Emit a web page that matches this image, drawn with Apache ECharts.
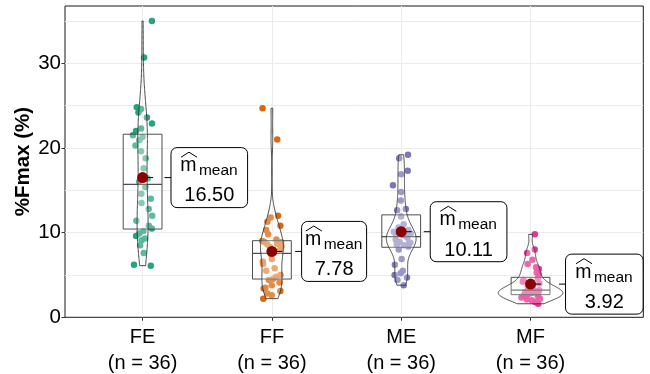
<!DOCTYPE html>
<html>
<head>
<meta charset="utf-8">
<script src="https://cdn.jsdelivr.net/npm/echarts@6/dist/echarts.min.js"></script>
<style>
  html, body { margin: 0; padding: 0; background: #fff; }
  #chart { width: 650px; height: 374px; }
</style>
</head>
<body>
<div id="chart"></div>
<script>
// data
const categories = ['FE', 'FF', 'ME', 'MF'];
const feValues = [6.1, 6.2, 7.6, 8.5, 9.1, 9.3, 9.6, 9.9, 10.2, 10.5, 10.8, 11.4, 12.0, 12.8, 13.5, 14.0, 14.6, 15.4,
  16.0, 16.4, 17.6, 18.8, 19.6, 20.3, 20.9, 21.3, 21.5, 22.0, 22.3, 22.9, 23.6, 24.2, 24.6, 24.8, 30.7, 35.0];
const ffValues = [2.2, 2.6, 2.8, 3.1, 3.4, 3.5, 3.8, 4.1, 4.4, 4.56, 4.8, 5.0, 5.5, 5.8, 6.3, 6.6, 6.9, 7.4,
  7.72, 8.0, 8.3, 8.4, 8.6, 8.7, 8.85, 8.9, 9.0, 9.2, 9.8, 10.3, 10.8, 11.3, 11.8, 12.0, 21.0, 24.7];
const meValues = [3.8, 4.4, 4.7, 5.0, 5.2, 5.5, 6.2, 6.9, 8.0, 8.36, 8.5, 8.6, 8.7, 8.8, 8.9, 9.0, 9.2, 9.4,
  9.64, 9.7, 9.8, 9.9, 10.1, 10.3, 10.6, 11.0, 11.92, 12.64, 12.8, 13.8, 14.8, 15.6, 16.9, 17.3, 18.8, 19.2];
const mfValues = [1.6, 1.8, 2.0, 2.1, 2.2, 2.35, 2.45, 2.5, 2.6, 2.7, 2.75, 2.8, 2.9, 2.95, 3.0, 3.05, 3.1, 3.2,
  3.24, 3.3, 3.45, 3.6, 3.8, 4.0, 4.2, 4.4, 4.6, 5.08, 5.3, 5.7, 5.9, 6.3, 6.8, 7.6, 8.0, 9.8];
const yTicks = [0, 10, 20, 30];
const yGridLines = [5, 10, 15, 20, 25, 30, 35];
const groupValues = [feValues, ffValues, meValues, mfValues];

const GROUP_COLORS = ['#1b9e77', '#d95f02', '#7570b3', '#e7298a'];
const FONT = '"Liberation Sans", Arial, Helvetica, sans-serif';
const Y_MAX = 36.77;
const BOX_WIDTH = 0.3;
const VIOLIN_WIDTH = 0.5;
const JITTER = 0.075;
// label box placement (px) per group
const LABEL_OFFSET = [28.4, 29.7, 29, 35];
const LABEL_WIDTH = [76.6, 65, 76.7, 77.6];

function quantile(sorted, p) {
  const h = (sorted.length - 1) * p;
  const lo = Math.floor(h);
  const hi = Math.min(lo + 1, sorted.length - 1);
  return sorted[lo] + (h - lo) * (sorted[hi] - sorted[lo]);
}

function groupStats(vals) {
  const s = vals.slice().sort((a, b) => a - b);
  const n = s.length;
  const mean = s.reduce((a, b) => a + b, 0) / n;
  const sd = Math.sqrt(s.reduce((a, b) => a + (b - mean) * (b - mean), 0) / (n - 1));
  const q1 = quantile(s, 0.25), med = quantile(s, 0.5), q3 = quantile(s, 0.75);
  const bw = 0.9 * Math.min(sd, (q3 - q1) / 1.34) * Math.pow(n, -0.2);
  const dens = [];
  const steps = 200;
  for (let k = 0; k <= steps; k++) {
    const y = s[0] + (s[n - 1] - s[0]) * k / steps;
    let d = 0;
    for (const v of s) {
      const z = (y - v) / bw;
      d += Math.exp(-0.5 * z * z);
    }
    dens.push([y, d / (n * bw * Math.sqrt(2 * Math.PI))]);
  }
  return { n, mean, q1, med, q3, dens };
}

const stats = groupValues.map(groupStats);
const maxDensity = Math.max(...stats.map(st => Math.max(...st.dens.map(d => d[1]))));

function jitter(g, i) {
  const s = Math.sin((g * 97 + i + 1) * 12.9898) * 43758.5453;
  return ((s - Math.floor(s)) * 2 - 1) * JITTER;
}

const pointSeries = groupValues.map((vals, g) => ({
  type: 'scatter',
  z: 2,
  symbolSize: 6.5,
  itemStyle: { color: GROUP_COLORS[g], opacity: 0.95 },
  data: vals.map((v, i) => [g + 1 + jitter(g, i), v])
}));

const boxSeries = {
  type: 'custom',
  z: 3,
  data: stats.map((st, g) => [g + 1, st.med]),
  encode: { x: 0, y: 1 },
  renderItem(params, api) {
    const g = params.dataIndex;
    const st = stats[g];
    const a = api.coord([g + 1 - BOX_WIDTH / 2, st.q3]);
    const b = api.coord([g + 1 + BOX_WIDTH / 2, st.q1]);
    const m = api.coord([g + 1, st.med]);
    return {
      type: 'group',
      children: [
        { type: 'rect', shape: { x: a[0], y: a[1], width: b[0] - a[0], height: b[1] - a[1] },
          style: { fill: 'rgba(255,255,255,0.25)', stroke: '#4d4d4d', lineWidth: 1 } },
        { type: 'line', shape: { x1: a[0], y1: m[1], x2: b[0], y2: m[1] },
          style: { stroke: '#4d4d4d', lineWidth: 1.2 } }
      ]
    };
  }
};

const violinSeries = {
  type: 'custom',
  z: 4,
  data: stats.map((st, g) => [g + 1, st.med]),
  encode: { x: 0, y: 1 },
  renderItem(params, api) {
    const g = params.dataIndex;
    const right = [], left = [];
    stats[g].dens.forEach(([y, d]) => {
      const hw = d / maxDensity * VIOLIN_WIDTH / 2;
      right.push(api.coord([g + 1 + hw, y]));
      left.push(api.coord([g + 1 - hw, y]));
    });
    return {
      type: 'polygon',
      shape: { points: right.concat(left.reverse()) },
      style: { fill: 'rgba(255,255,255,0.25)', stroke: '#333', lineWidth: 0.9 }
    };
  }
};

const meanSeries = {
  type: 'scatter',
  z: 5,
  symbolSize: 11,
  itemStyle: { color: '#8b0000', opacity: 1 },
  data: stats.map((st, g) => [g + 1, st.mean])
};

const labelSeries = {
  type: 'custom',
  z: 6,
  clip: false,
  data: stats.map((st, g) => [g + 1, st.mean]),
  encode: { x: 0, y: 1 },
  renderItem(params, api) {
    const g = params.dataIndex;
    const p = api.coord([g + 1, stats[g].mean]);
    const left = p[0] + LABEL_OFFSET[g];
    const w = LABEL_WIDTH[g];
    const top = p[1] - 30;
    const cx = left + w / 2;
    const txt = { fill: '#000', align: 'left', verticalAlign: 'middle' };
    return {
      type: 'group',
      children: [
        { type: 'line', shape: { x1: p[0] + 5, y1: p[1], x2: p[0] + 10.5, y2: p[1] },
          style: { stroke: '#000', lineWidth: 1 } },
        { type: 'line', shape: { x1: left - 6.5, y1: p[1], x2: left, y2: p[1] },
          style: { stroke: '#000', lineWidth: 1 } },
        { type: 'rect', shape: { x: left, y: top, width: w, height: 60, r: 6 },
          style: { fill: '#fff', stroke: '#000', lineWidth: 1 } },
        { type: 'polyline', shape: { points: [[cx - 28.3, top + 9.6], [cx - 20.3, top + 4.6], [cx - 12.3, top + 9.6]] },
          style: { stroke: '#000', lineWidth: 1, fill: null } },
        { type: 'text', style: Object.assign({ text: 'm', x: cx - 29, y: top + 18.2, font: '19.5px ' + FONT }, txt) },
        { type: 'text', style: Object.assign({ text: 'mean', x: cx - 10.4, y: top + 23.4, font: '15.5px ' + FONT }, txt) },
        { type: 'text', style: Object.assign({ text: stats[g].mean.toFixed(2), x: cx, y: top + 48.3,
          font: '20px ' + FONT }, txt, { align: 'center' }) }
      ]
    };
  }
};

const chart = echarts.init(document.getElementById('chart'), null, { renderer: 'canvas' });
chart.setOption({
  animation: false,
  backgroundColor: '#fff',
  grid: {
    left: 65, right: 6.7, top: 6, bottom: 56.7,
    outerBoundsMode: 'none',
    show: true, borderColor: '#1a1a1a', borderWidth: 1, backgroundColor: '#fff'
  },
  xAxis: {
    type: 'value',
    min: 0.4,
    max: 4.872,
    axisLine: { show: false },
    axisTick: { show: true, customValues: [1, 2, 3, 4], length: 3.5, lineStyle: { color: '#333' } },
    axisLabel: {
      customValues: [1, 2, 3, 4],
      margin: 7,
      color: '#000',
      fontFamily: FONT,
      fontSize: 20,
      lineHeight: 26.3,
      formatter: v => categories[v - 1] + '\n(n = ' + stats[v - 1].n + ')'
    },
    splitLine: { show: true, lineStyle: { color: '#ebebeb', width: 1 } }
  },
  yAxis: [{
    type: 'value',
    min: 0,
    max: Y_MAX,
    interval: 5,
    axisLine: { show: false },
    axisTick: { show: false, customValues: yGridLines },
    axisLabel: { show: false },
    splitLine: { show: true, lineStyle: { color: '#ebebeb', width: 1 } },
    name: '%Fmax (%)',
    nameLocation: 'middle',
    nameGap: 31,
    nameTextStyle: { fontFamily: FONT, fontSize: 20.5, fontWeight: 'bold', color: '#000' }
  }, {
    type: 'value',
    position: 'left',
    min: 0,
    max: Y_MAX,
    interval: 10,
    axisLine: { show: false },
    axisTick: { show: true, customValues: yTicks, length: 3.5, lineStyle: { color: '#333' } },
    axisLabel: { customValues: yTicks, margin: 4, color: '#000', fontFamily: FONT, fontSize: 20.5 },
    splitLine: { show: false }
  }],
  series: [...pointSeries, boxSeries, violinSeries, meanSeries, labelSeries]
});
</script>
</body>
</html>
